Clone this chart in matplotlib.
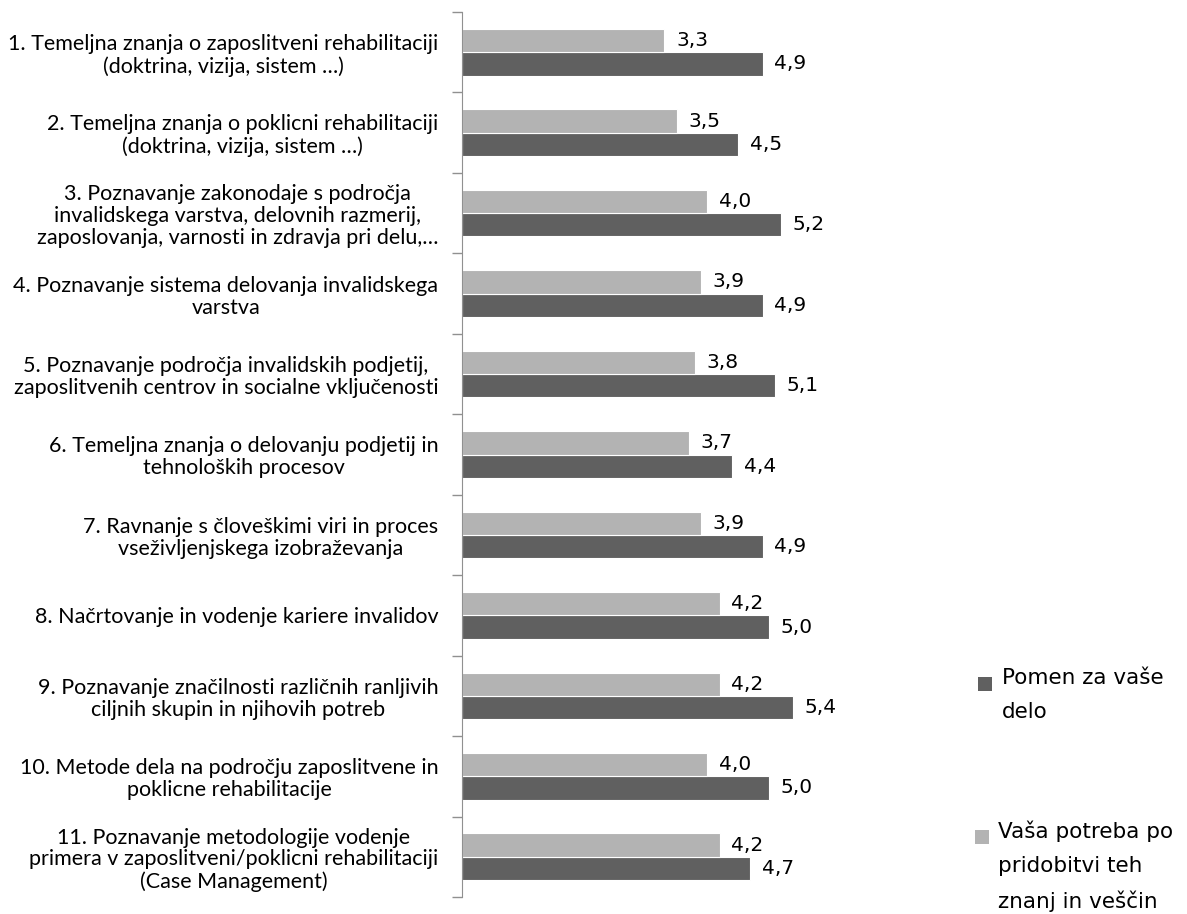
import matplotlib
matplotlib.use("Agg")
import matplotlib.pyplot as plt
from matplotlib.patches import Rectangle
import numpy as np

categories = [
    "1. Temeljna znanja o zaposlitveni rehabilitaciji\n(doktrina, vizija, sistem …)",
    "2. Temeljna znanja o poklicni rehabilitaciji\n(doktrina, vizija, sistem …)",
    "3. Poznavanje zakonodaje s področja\ninvalidskega varstva, delovnih razmerij,\nzaposlovanja, varnosti in zdravja pri delu,…",
    "4. Poznavanje sistema delovanja invalidskega\nvarstva",
    "5. Poznavanje področja invalidskih podjetij,\nzaposlitvenih centrov in socialne vključenosti",
    "6. Temeljna znanja o delovanju podjetij in\ntehnoloških procesov",
    "7. Ravnanje s človeškimi viri in proces\nvseživljenjskega izobraževanja",
    "8. Načrtovanje in vodenje kariere invalidov",
    "9. Poznavanje značilnosti različnih ranljivih\nciljnih skupin in njihovih potreb",
    "10. Metode dela na področju zaposlitvene in\npoklicne rehabilitacije",
    "11. Poznavanje metodologije vodenje\nprimera v zaposlitveni/poklicni rehabilitaciji\n(Case Management)",
]
pomen = [4.9, 4.5, 5.2, 4.9, 5.1, 4.4, 4.9, 5.0, 5.4, 5.0, 4.7]
potreba = [3.3, 3.5, 4.0, 3.9, 3.8, 3.7, 3.9, 4.2, 4.2, 4.0, 4.2]
series_names = ["Pomen za vaše\ndelo", "Vaša potreba po\npridobitvi teh\nznanj in veščin"]

dark = "#606060"
light = "#B3B3B3"

W, H = 1187, 914
fig = plt.figure(figsize=(W/100, H/100), dpi=100)
ax = fig.add_axes([462/W, 1-897/H, (830-462)/W, (897-12)/H])

n = len(categories)
y = np.arange(n)
h = 0.29
b_dark = ax.barh(y + h/2, pomen, height=h, color=dark, edgecolor="white", linewidth=0.8)
b_light = ax.barh(y - h/2, potreba, height=h, color=light, edgecolor="white", linewidth=0.8)

for bars, vals in ((b_dark, pomen), (b_light, potreba)):
    for rect, v in zip(bars, vals):
        ax.text(rect.get_width() + 0.19, rect.get_y() + rect.get_height()/2,
                f"{v:.1f}".replace(".", ","), va="center", ha="left",
                fontsize=14.5, family="DejaVu Sans", color="black")

ax.set_xlim(0, 6)
ax.set_ylim(n - 0.5, -0.5)
ax.set_yticks(y)
ax.set_yticklabels(categories, fontsize=15.5, family="Lato")
for lbl in ax.get_yticklabels():
    lbl.set_multialignment("center")
    lbl.set_linespacing(1.12)
ax.tick_params(axis="y", which="major", length=0, pad=17)
ax.set_yticks(np.arange(-0.5, n, 1.0), minor=True)
ax.tick_params(axis="y", which="minor", length=7, color="#909090", width=1)
ax.set_xticks([])
for s in ("top", "right", "bottom"):
    ax.spines[s].set_visible(False)
ax.spines["left"].set_color("#909090")

# legend (manual, Excel-like layout)
legend_items = [(dark, series_names[0], 978, 677, 1002), (light, series_names[1], 975, 830, 998)]
for col, name, sx, sy, tx in legend_items:
    fig.patches.append(Rectangle((sx/W, 1-(sy+14)/H), 14/W, 14/H, transform=fig.transFigure,
                                 facecolor=col, edgecolor="none"))
    fig.text(tx/W, 1-(sy-9)/H, name, ha="left", va="top", fontsize=15.5,
             family="DejaVu Sans", linespacing=1.85)

fig.savefig("out.png", dpi=100)
